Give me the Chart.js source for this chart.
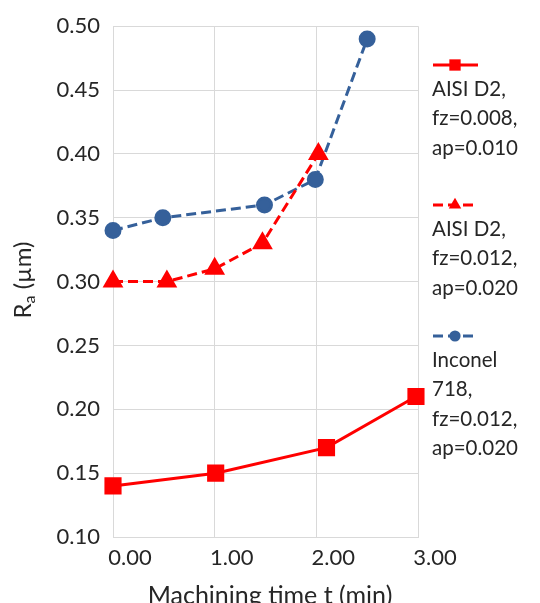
<!DOCTYPE html>
<html>
<head>
<meta charset="utf-8">
<script src="https://cdn.jsdelivr.net/npm/chart.js@4/dist/chart.umd.min.js"></script>
<style>
    html, body { margin: 0; padding: 0; background: #fff; }
    #wrap { width: 540px; height: 603px; position: relative; }
</style>
</head>
<body>
<div id="wrap"><canvas id="raChart" width="540" height="603"></canvas></div>
<script>
// AISI D2, fz=0.008, ap=0.010
const timeD2Low = [0, 1.01, 2.1, 2.98];
const raD2Low = [0.14, 0.15, 0.17, 0.21];
// AISI D2, fz=0.012, ap=0.020
const timeD2High = [0, 0.53, 1.0, 1.47, 2.02];
const raD2High = [0.30, 0.30, 0.31, 0.33, 0.40];
// Inconel 718, fz=0.012, ap=0.020
const timeInconel = [0, 0.49, 1.49, 1.99, 2.5];
const raInconel = [0.34, 0.35, 0.36, 0.38, 0.49];

const legendLabels = [
    ['AISI D2,', 'fz=0.008,', 'ap=0.010'],
    ['AISI D2,', 'fz=0.012,', 'ap=0.020'],
    ['Inconel', '718,', 'fz=0.012,', 'ap=0.020']
];
const xTitle = 'Machining time t (min)';

const RED = '#ff0000';
const BLUE = '#35609a';
const FONT = 'Lato, "Open Sans", sans-serif';
const TEXT = '#262626';

const toPoints = (xs, ys) => xs.map((x, i) => ({ x: x, y: ys[i] }));

const datasets = [
    {
        label: legendLabels[0].join(' '),
        data: toPoints(timeD2Low, raD2Low),
        borderColor: RED, backgroundColor: RED,
        borderWidth: 3, pointStyle: 'rect', pointRadius: 10,
        borderDash: [], clip: false
    },
    {
        label: legendLabels[1].join(' '),
        data: toPoints(timeD2High, raD2High),
        borderColor: RED, backgroundColor: RED,
        borderWidth: 3, pointStyle: 'triangle', pointRadius: 9,
        borderDash: [10, 5], clip: false
    },
    {
        label: legendLabels[2].join(' '),
        data: toPoints(timeInconel, raInconel),
        borderColor: BLUE, backgroundColor: BLUE,
        borderWidth: 3, pointStyle: 'circle', pointRadius: 7,
        borderDash: [10, 5], clip: false
    }
];

// legend on the right + axis titles (R with subscript a)
const decorations = {
    id: 'decorations',
    afterDraw(chart) {
        const ctx = chart.ctx;
        ctx.save();

        // y title
        ctx.translate(23, 280);
        ctx.rotate(-Math.PI / 2);
        ctx.fillStyle = TEXT;
        ctx.textBaseline = 'middle';
        ctx.font = '24px ' + FONT;
        const rW = ctx.measureText('R').width;
        ctx.font = '16px ' + FONT;
        const aW = ctx.measureText('a').width;
        ctx.font = '24px ' + FONT;
        const restW = ctx.measureText(' (µm)').width;
        let x = -(rW + aW + restW) / 2;
        ctx.textAlign = 'left';
        ctx.fillText('R', x, 0);
        x += rW;
        ctx.font = '16px ' + FONT;
        ctx.fillText('a', x, 7);
        x += aW;
        ctx.font = '24px ' + FONT;
        ctx.fillText(' (µm)', x, 0);
        ctx.restore();

        // x title
        ctx.save();
        ctx.fillStyle = TEXT;
        ctx.font = '25px ' + FONT;
        ctx.textAlign = 'center';
        ctx.textBaseline = 'middle';
        ctx.fillText(xTitle, 270, 596);
        ctx.restore();

        // legend
        const sampleY = [65, 205, 336];
        ctx.save();
        chart.data.datasets.forEach((ds, i) => {
            const y = sampleY[i];
            ctx.strokeStyle = ds.borderColor;
            ctx.fillStyle = ds.backgroundColor;
            ctx.lineWidth = 3;
            ctx.setLineDash(ds.borderDash);
            ctx.beginPath();
            ctx.moveTo(433, y);
            ctx.lineTo(478, y);
            ctx.stroke();
            ctx.setLineDash([]);
            Chart.helpers.drawPoint(ctx, {
                pointStyle: ds.pointStyle,
                radius: ds.pointRadius * 0.8,
                borderWidth: 0
            }, 455, y);

            ctx.fillStyle = TEXT;
            ctx.font = '20.5px ' + FONT;
            ctx.textAlign = 'left';
            ctx.textBaseline = 'middle';
            legendLabels[i].forEach((line, j) => {
                ctx.fillText(line, 432, y + 24 + j * 29.5);
            });
        });
        ctx.restore();
    }
};

new Chart(document.getElementById('raChart'), {
    type: 'line',
    data: { datasets: datasets },
    options: {
        responsive: false,
        animation: false,
        events: [],
        layout: { padding: { top: 25, right: 122, left: 0, bottom: 0 } },
        plugins: {
            legend: { display: false },
            tooltip: { enabled: false }
        },
        elements: { line: { tension: 0 } },
        scales: {
            x: {
                type: 'linear',
                min: 0, max: 3,
                afterFit: (scale) => { scale.height = 66; },
                grid: { color: '#d9d9d9', lineWidth: 1, drawTicks: false },
                border: { color: '#d9d9d9', width: 1 },
                ticks: {
                    stepSize: 1,
                    padding: 8,
                    labelOffset: 17,
                    color: TEXT,
                    font: { family: FONT, size: 22 },
                    callback: (v) => v.toFixed(2)
                }
            },
            y: {
                min: 0.10, max: 0.50,
                afterFit: (scale) => { scale.width = 113; },
                grid: { color: '#d9d9d9', lineWidth: 1, drawTicks: false },
                border: { color: '#d9d9d9', width: 1 },
                ticks: {
                    stepSize: 0.05,
                    padding: 13,
                    color: TEXT,
                    font: { family: FONT, size: 22 },
                    callback: (v) => v.toFixed(2)
                }
            }
        }
    },
    plugins: [decorations]
});
</script>
</body>
</html>
